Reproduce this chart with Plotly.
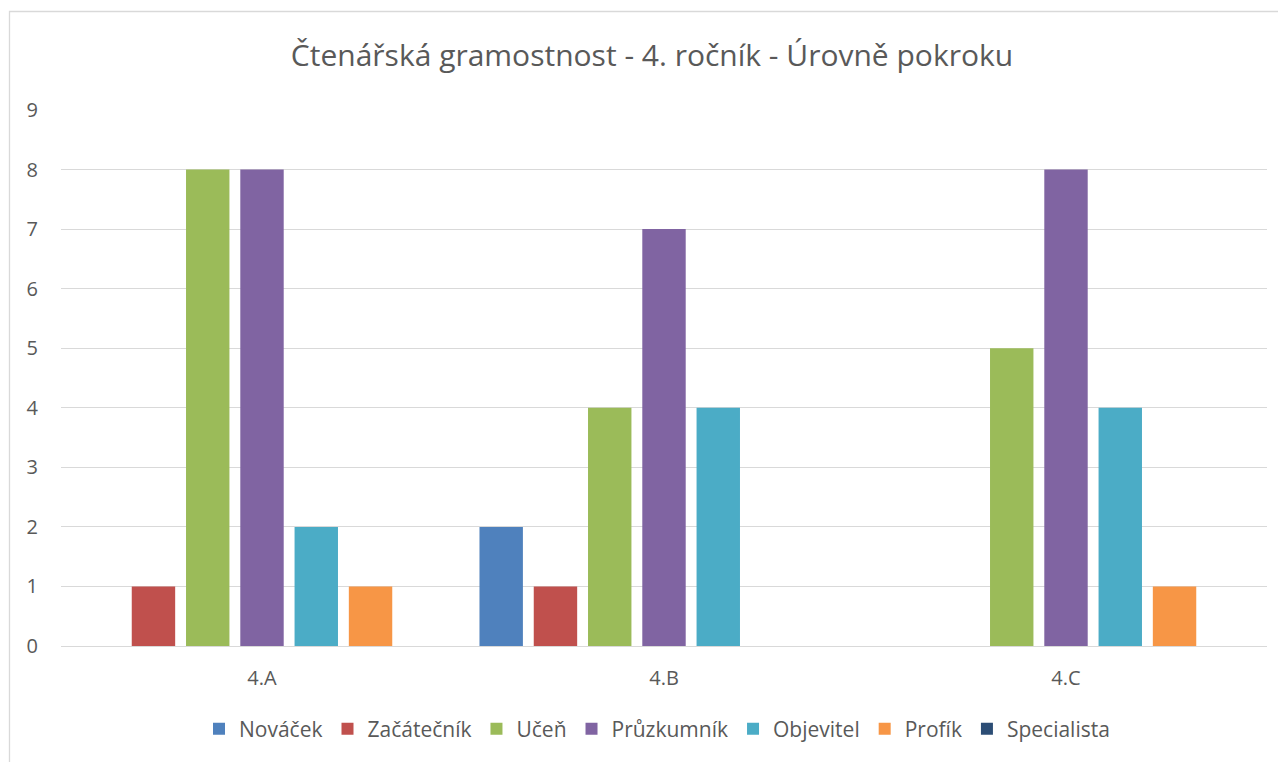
import plotly.graph_objects as go

categories = ["4.A", "4.B", "4.C"]
series_names = ["Nováček", "Začátečník", "Učeň", "Průzkumník", "Objevitel", "Profík", "Specialista"]
novacek = [0, 2, 0]
zacatecnik = [1, 1, 0]
ucen = [8, 4, 5]
pruzkumnik = [8, 7, 8]
objevitel = [2, 4, 4]
profik = [1, 0, 1]
specialista = [0, 0, 0]
colors = ["#4F81BD", "#C0504D", "#9BBB59", "#8064A2", "#4BACC6", "#F79646", "#2C4D75"]
y_ticks = list(range(0, 10))

values = [novacek, zacatecnik, ucen, pruzkumnik, objevitel, profik, specialista]

FONT = "'Open Sans', Lato, sans-serif"
GRAY = "#595959"

fig = go.Figure()
for name, vals, col in zip(series_names, values, colors):
    fig.add_trace(go.Bar(x=categories, y=vals, name=name, marker=dict(color=col, line=dict(width=0))))

# page body has an 8px margin, so screenshot coords = figure coords + 8
OFF = 8
W, H = 1286, 762
# plot area in screenshot coords: x 61..1267, y 110..646
L = 61 - OFF
R = W - (1267 - OFF)
T = 110 - OFF
B = H - (646 - OFF)
pw, ph = W - L - R, H - T - B

def px(x):
    return (x - OFF - L) / pw

def py(y):
    return (H - B - (y - OFF)) / ph

fig.add_shape(type="rect", xref="paper", yref="paper",
              x0=px(9.5), x1=px(1320), y0=py(11.5), y1=py(800),
              line=dict(color="#D9D9D9", width=1.3), fillcolor="rgba(0,0,0,0)", layer="below")

fig.update_layout(
    width=W, height=H,
    margin=dict(l=L, r=R, t=T, b=B),
    paper_bgcolor="white", plot_bgcolor="white",
    barmode="group", bargap=0.055, bargroupgap=0.2,
    font=dict(family=FONT, color=GRAY, size=20),
    title=dict(text="Čtenářská gramostnost - 4. ročník - Úrovně pokroku",
               x=(652 - OFF) / W, xanchor="center", y=1 - (55 - OFF) / H, yanchor="middle",
               font=dict(family=FONT, size=30, color=GRAY)),
    showlegend=True,
    legend=dict(orientation="h", x=px(657), xanchor="center", y=py(729), yanchor="middle",
                font=dict(family=FONT, size=21, color=GRAY), traceorder="normal",
                itemwidth=30, bgcolor="rgba(0,0,0,0)"),
    xaxis=dict(showgrid=False, showline=True, linecolor="#D9D9D9", linewidth=1.3,
               tickfont=dict(size=20, color=GRAY), ticks="", ticklabelstandoff=14),
    yaxis=dict(range=[0, 9], tickvals=y_ticks, showgrid=True, gridcolor="#D9D9D9", gridwidth=1.3,
               zeroline=False, showline=False, ticks="", tickfont=dict(size=20, color=GRAY),
               ticklabelstandoff=22),
)

fig.write_html("out.html")
